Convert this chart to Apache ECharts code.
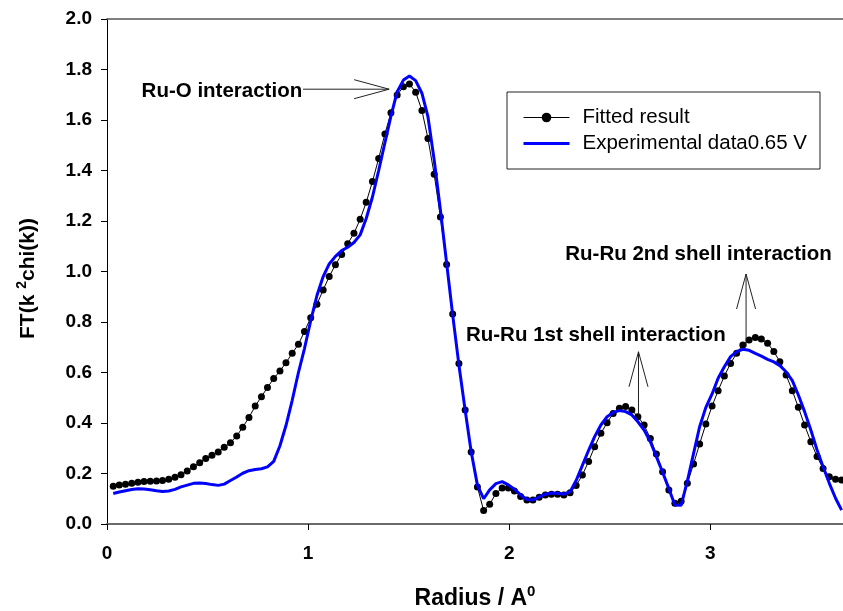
<!DOCTYPE html>
<html>
<head>
<meta charset="utf-8">
<script src="https://cdn.jsdelivr.net/npm/echarts@6/dist/echarts.min.js"></script>
<style>
  html, body { margin: 0; padding: 0; background: #ffffff; }
  #chart { width: 843px; height: 611px; }
</style>
</head>
<body>
<div id="chart"></div>
<script>
// Radial distance grid (Å) shared by both curves
const radius = [
  0.031, 0.061, 0.092, 0.123, 0.154, 0.184, 0.215, 0.246, 0.276, 0.307,
  0.338, 0.368, 0.399, 0.430, 0.461, 0.491, 0.522, 0.553, 0.583, 0.614,
  0.645, 0.675, 0.706, 0.737, 0.768, 0.798, 0.829, 0.860, 0.890, 0.921,
  0.952, 0.982, 1.013, 1.044, 1.075, 1.105, 1.136, 1.167, 1.197, 1.228,
  1.259, 1.289, 1.320, 1.351, 1.382, 1.412, 1.443, 1.474, 1.504, 1.535,
  1.566, 1.596, 1.627, 1.658, 1.689, 1.719, 1.750, 1.781, 1.811, 1.842,
  1.873, 1.903, 1.934, 1.965, 1.996, 2.026, 2.057, 2.088, 2.118, 2.149,
  2.180, 2.210, 2.241, 2.272, 2.303, 2.333, 2.364, 2.395, 2.425, 2.456,
  2.487, 2.517, 2.548, 2.579, 2.610, 2.640, 2.671, 2.702, 2.732, 2.763,
  2.794, 2.824, 2.855, 2.886, 2.917, 2.947, 2.978, 3.009, 3.039, 3.070,
  3.101, 3.131, 3.162, 3.193, 3.224, 3.254, 3.285, 3.316, 3.346, 3.377,
  3.408, 3.438, 3.469, 3.500, 3.531, 3.561, 3.592, 3.623, 3.653
];

// Fitted FT magnitude (black dots)
const fitted = [
  0.150, 0.154, 0.157, 0.161, 0.165, 0.168, 0.169, 0.170, 0.172, 0.177,
  0.185, 0.195, 0.210, 0.227, 0.243, 0.259, 0.272, 0.285, 0.304, 0.322,
  0.349, 0.383, 0.422, 0.467, 0.504, 0.541, 0.576, 0.606, 0.639, 0.676,
  0.712, 0.762, 0.817, 0.870, 0.927, 0.980, 1.027, 1.067, 1.110, 1.151,
  1.207, 1.274, 1.356, 1.448, 1.545, 1.629, 1.699, 1.732, 1.743, 1.710,
  1.638, 1.527, 1.385, 1.216, 1.028, 0.832, 0.636, 0.451, 0.285, 0.147,
  0.053, 0.078, 0.121, 0.143, 0.143, 0.131, 0.109, 0.095, 0.095, 0.106,
  0.115, 0.118, 0.118, 0.115, 0.124, 0.152, 0.194, 0.248, 0.306, 0.359,
  0.401, 0.438, 0.458, 0.465, 0.451, 0.425, 0.392, 0.339, 0.277, 0.207,
  0.135, 0.082, 0.090, 0.161, 0.238, 0.317, 0.396, 0.467, 0.528, 0.586,
  0.636, 0.676, 0.709, 0.729, 0.739, 0.733, 0.716, 0.683, 0.643, 0.590,
  0.528, 0.462, 0.392, 0.326, 0.267, 0.220, 0.187, 0.177, 0.174
];

// Measured FT magnitude at 0.65 V (blue line)
const experimental = [
  0.121, 0.127, 0.132, 0.137, 0.140, 0.139, 0.136, 0.132, 0.129, 0.131,
  0.137, 0.147, 0.154, 0.161, 0.162, 0.160, 0.156, 0.153, 0.158, 0.172,
  0.186, 0.201, 0.211, 0.216, 0.219, 0.226, 0.248, 0.310, 0.390, 0.490,
  0.600, 0.695, 0.805, 0.905, 0.980, 1.030, 1.060, 1.083, 1.096, 1.115,
  1.145, 1.210, 1.295, 1.400, 1.510, 1.615, 1.712, 1.758, 1.774, 1.756,
  1.706, 1.613, 1.442, 1.244, 1.032, 0.828, 0.630, 0.451, 0.286, 0.154,
  0.100, 0.135, 0.160, 0.168, 0.155, 0.138, 0.115, 0.097, 0.095, 0.107,
  0.118, 0.123, 0.122, 0.118, 0.128, 0.172, 0.232, 0.292, 0.346, 0.392,
  0.425, 0.442, 0.449, 0.445, 0.432, 0.405, 0.372, 0.326, 0.267, 0.205,
  0.140, 0.075, 0.074, 0.170, 0.280, 0.385, 0.462, 0.515, 0.577, 0.623,
  0.663, 0.683, 0.692, 0.688, 0.676, 0.665, 0.652, 0.642, 0.627, 0.603,
  0.568, 0.511, 0.445, 0.372, 0.293, 0.227, 0.161, 0.102, 0.055
];

const seriesNames = ['Fitted result', 'Experimental data0.65 V'];

// Peak labels (left edge / vertical centre, data units)
const peakLabels = [
  { text: 'Ru-O interaction', at: [0.172, 1.712] },
  { text: 'Ru-Ru 1st shell interaction', at: [1.785, 0.749] },
  { text: 'Ru-Ru 2nd shell interaction', at: [2.279, 1.069] }
];

// Pointer arrows (tail -> tip, data units)
const pointers = [
  { from: [0.975, 1.722], to: [1.403, 1.722] },
  { from: [2.643, 0.432], to: [2.643, 0.682] },
  { from: [3.178, 0.702], to: [3.178, 0.990] }
];

const FONT = '"Liberation Sans", Arial, Helvetica, sans-serif';

const toPairs = (xs, ys) => xs.map((x, i) => [x, ys[i]]);

const chart = echarts.init(document.getElementById('chart'), null, { renderer: 'canvas' });

const titleRich = size => ({
  b: { fontFamily: FONT, fontSize: size, fontWeight: 'bold', color: '#000', lineHeight: size + 3, verticalAlign: 'bottom' },
  s: { fontFamily: FONT, fontSize: Math.round(size * 0.65), fontWeight: 'bold', color: '#000', lineHeight: 14, verticalAlign: 'top' }
});

chart.setOption({
  animation: false,
  backgroundColor: '#ffffff',
  grid: { left: 107, right: 0, top: 19, bottom: 87, containLabel: false, outerBoundsMode: 'none' },
  legend: {
    orient: 'vertical',
    left: 507,
    top: 92,
    padding: [15, 13, 15, 15],
    itemGap: 5,
    itemWidth: 46,
    itemHeight: 12,
    borderColor: '#222',
    borderWidth: 1,
    backgroundColor: '#ffffff',
    textStyle: { fontFamily: FONT, fontSize: 20.5, color: '#000', lineHeight: 20, padding: [0, 0, 0, 8] },
    data: [
      { name: seriesNames[0], lineStyle: { width: 1 } },
      { name: seriesNames[1], itemStyle: { opacity: 0 }, lineStyle: { width: 3 } }
    ]
  },
  xAxis: [
    {
      type: 'value',
      position: 'bottom',
      min: 0,
      max: 3.66,
      interval: 1,
      splitLine: { show: false },
      axisLine: { show: true, onZero: false, lineStyle: { color: '#6a6a6a', width: 2 } },
      axisTick: { show: true, inside: false, length: 6, lineStyle: { color: '#000', width: 1 } },
      axisLabel: {
        show: true, margin: 20, showMaxLabel: false,
        fontFamily: FONT, fontSize: 19, fontWeight: 'bold', color: '#000',
        formatter: v => (Math.abs(v - Math.round(v)) < 1e-9 ? String(Math.round(v)) : '')
      },
      name: '{b|Radius / A}{s|0}',
      nameLocation: 'middle',
      nameGap: 60,
      nameTextStyle: { rich: titleRich(23) }
    },
    {
      type: 'value',
      position: 'top',
      min: 0,
      max: 3.66,
      interval: 1,
      splitLine: { show: false },
      axisLine: { show: true, onZero: false, lineStyle: { color: '#555', width: 1.5 } },
      axisTick: { show: false },
      axisLabel: { show: false }
    }
  ],
  yAxis: {
    type: 'value',
    min: 0,
    max: 2,
    interval: 0.2,
    splitLine: { show: false },
    axisLine: { show: true, onZero: false, lineStyle: { color: '#000', width: 1 } },
    axisTick: { show: true, inside: false, length: 6, lineStyle: { color: '#000', width: 1 } },
    axisLabel: {
      margin: 15,
      fontFamily: FONT, fontSize: 19, fontWeight: 'bold', color: '#000',
      formatter: v => v.toFixed(1)
    },
    name: '{b|FT(k }{s|2}{b|chi(k))}',
    nameLocation: 'middle',
    nameGap: 68,
    nameTextStyle: { padding: [0, 14, 0, 0], rich: titleRich(21) }
  },
  series: [
    {
      name: seriesNames[0],
      type: 'line',
      xAxisIndex: 0,
      data: toPairs(radius, fitted),
      symbol: 'circle',
      symbolSize: 7,
      showSymbol: true,
      itemStyle: { color: '#000' },
      lineStyle: { color: '#000', width: 1 },
      z: 2
    },
    {
      name: seriesNames[1],
      type: 'line',
      xAxisIndex: 0,
      data: toPairs(radius, experimental),
      symbol: 'none',
      showSymbol: false,
      itemStyle: { color: '#0000ff' },
      lineStyle: { color: '#0000ff', width: 3 },
      z: 3
    }
  ]
});

// Peak labels and open-headed arrows placed through the axes
const px = p => chart.convertToPixel({ xAxisIndex: 0, yAxisIndex: 0 }, p);
const HEAD_LEN = 35, HEAD_HALF = 9.5;
const graphics = [];

peakLabels.forEach(l => {
  const p = px(l.at);
  graphics.push({
    type: 'text',
    x: p[0], y: p[1],
    style: { text: l.text, fill: '#000', font: 'bold 20.5px ' + FONT, verticalAlign: 'middle', align: 'left' },
    z: 10
  });
});

pointers.forEach(a => {
  const t0 = px(a.from), t1 = px(a.to);
  const dx = t1[0] - t0[0], dy = t1[1] - t0[1];
  const len = Math.hypot(dx, dy);
  const ux = dx / len, uy = dy / len;
  const bx = t1[0] - ux * HEAD_LEN, by = t1[1] - uy * HEAD_LEN;
  const w1 = [bx - uy * HEAD_HALF, by + ux * HEAD_HALF];
  const w2 = [bx + uy * HEAD_HALF, by - ux * HEAD_HALF];
  graphics.push({
    type: 'polyline',
    shape: { points: [t0, t1] },
    style: { stroke: '#222', lineWidth: 1, fill: null },
    z: 10
  });
  graphics.push({
    type: 'polyline',
    shape: { points: [w1, t1, w2] },
    style: { stroke: '#222', lineWidth: 1, fill: null },
    z: 10
  });
});

chart.setOption({ graphic: graphics });
</script>
</body>
</html>
